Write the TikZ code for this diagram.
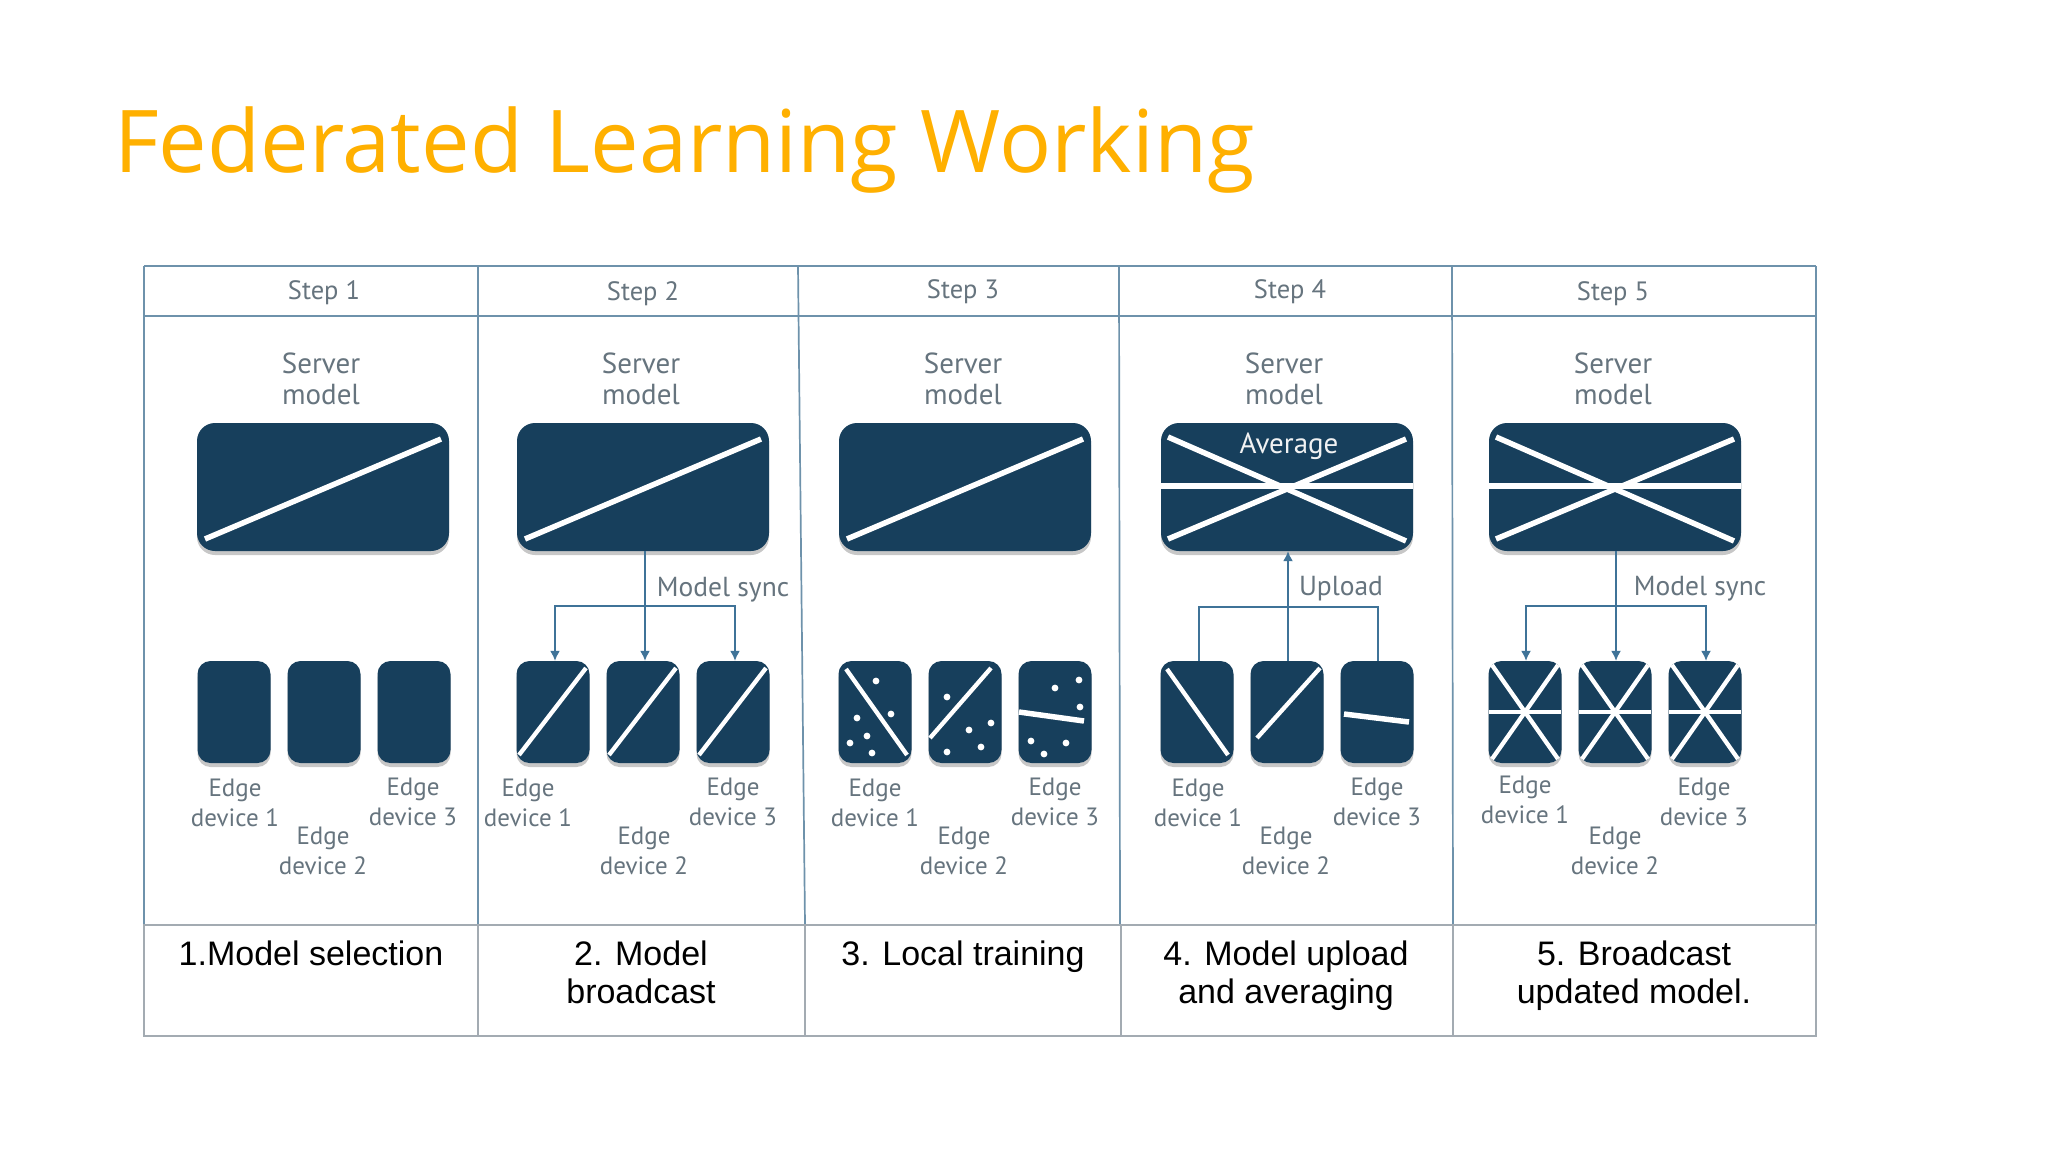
\documentclass[tikz,border=0pt]{standalone}
\usepackage{fontspec}
\setmainfont{Liberation Sans}
\newfontfamily\titlefont{Open Sans}
\newfontfamily\dinfont{PT Sans}
\usetikzlibrary{shadows,arrows.meta}
\definecolor{navy}{HTML}{173F5C}
\definecolor{rule}{HTML}{6E92AB}
\definecolor{lowrule}{HTML}{A3ABB2}
\definecolor{ink}{HTML}{66747E}
\definecolor{wire}{HTML}{3F7398}
\definecolor{titlec}{HTML}{FFB000}
\tikzset{
  x=1pt,y=-1pt,
  shadowed/.style={fill=navy,draw=none,inner sep=0pt,
    drop shadow={shadow xshift=0pt,shadow yshift=-4pt,opacity=.22,fill=black}},
  server/.style={shadowed,rounded corners=18pt,minimum width=252pt,minimum height=128pt},
  device/.style={shadowed,rounded corners=13pt,minimum width=73pt,minimum height=102pt},
  cut/.style={draw=white,line width=5.5pt},
  thincut/.style={draw=white,line width=4.3pt},
  dot/.style={fill=white,draw=none},
  lbl/.style={text=ink,align=center,inner sep=0pt,font=\dinfont\fontsize{25}{30.5}\selectfont},
  steplbl/.style={lbl,font=\dinfont\fontsize{26.5}{30.5}\selectfont},
  srvlbl/.style={lbl,font=\dinfont\fontsize{29}{31}\selectfont},
  wirelbl/.style={lbl,font=\dinfont\fontsize{27.5}{31}\selectfont},
  captext/.style={text=black,align=center,inner sep=0pt,font=\fontsize{34}{38}\selectfont,anchor=north},
  wireline/.style={draw=wire,line width=1.6pt},
  wirearrow/.style={wireline,-{Latex[length=10pt,width=10pt]}},
  tablerule/.style={draw=rule,line width=1.7pt},
  lowtable/.style={draw=lowrule,line width=1.7pt},
}
\newcommand{\srvbox}[2]{\node[server] (#1) at (#2,487) {};}
\newcommand{\devbox}[2]{\node[device] (#1) at (#2,712) {};}
\newcommand{\cutline}[5]{\draw[#5] ([shift={(#2)}]#1.center) -- ([shift={(#3)}]#1.center);}
\newcommand{\dotat}[2]{\fill[dot] ([shift={(#2)}]#1.center) circle (3.4pt);}
\newcommand{\srvX}[1]{%
  \draw[cut] ([shift={(-126,-1)}]#1.center) -- ([shift={(126,-1)}]#1.center);
  \draw[cut] ([shift={(-119,-50)}]#1.center) -- ([shift={(119,54)}]#1.center);
  \draw[cut] ([shift={(-119,52)}]#1.center) -- ([shift={(119,-48)}]#1.center);}
\newcommand{\devX}[1]{%
  \draw[thincut] ([shift={(-36,0)}]#1.center) -- ([shift={(36,0)}]#1.center);
  \draw[thincut] ([shift={(-33,-47)}]#1.center) -- ([shift={(33,47)}]#1.center);
  \draw[thincut] ([shift={(-33,47)}]#1.center) -- ([shift={(33,-47)}]#1.center);}
\begin{document}
\begin{tikzpicture}
\useasboundingbox (0,0) rectangle (2048,1152);
\fill[white] (0,0) rectangle (2048,1152);

\node[anchor=base west,inner sep=0pt,text=titlec,font=\titlefont\fontsize{86.6}{100}\selectfont] (title) at (114,172) {Federated Learning Working};

% table
\draw[tablerule] (144,266) -- (1816,266);
\draw[tablerule] (144,316) -- (1816,316);
\draw[tablerule] (144,266) -- (144,925);
\draw[tablerule] (1816,266) -- (1816,925);
\draw[tablerule] (478,266) -- (478,925);
\draw[tablerule] (798,266) -- (805,925);
\draw[tablerule] (1119,266) -- (1120,925);
\draw[tablerule] (1452,266) -- (1453,925);
\draw[lowtable] (144,925) rectangle (1816,1036);
\draw[lowtable] (478,925) -- (478,1036);
\draw[lowtable] (805,925) -- (805,1036);
\draw[lowtable] (1121,925) -- (1121,1036);
\draw[lowtable] (1453,925) -- (1453,1036);

% headers
\node[steplbl] (h1) at (324,293) {Step 1};
\node[steplbl] (h2) at (643,294) {Step 2};
\node[steplbl] (h3) at (963,292) {Step 3};
\node[steplbl] (h4) at (1290,292) {Step 4};
\node[steplbl] (h5) at (1613,294) {Step 5};

\node[srvlbl] (m1) at (321,379) {Server\\model};
\node[srvlbl] (m2) at (641,379) {Server\\model};
\node[srvlbl] (m3) at (963,379) {Server\\model};
\node[srvlbl] (m4) at (1284,379) {Server\\model};
\node[srvlbl] (m5) at (1613,379) {Server\\model};

% server boxes
\srvbox{s1}{323}\srvbox{s2}{643}\srvbox{s3}{965}\srvbox{s4}{1287}\srvbox{s5}{1615}
\cutline{s1}{-118,52}{118,-48}{}{cut}
\cutline{s2}{-118,52}{118,-48}{}{cut}
\cutline{s3}{-118,52}{118,-48}{}{cut}
\srvX{s4}\srvX{s5}
\node[srvlbl,text=white!90!ink] (avg) at (1289,446) {Average};

% devices
\devbox{d11}{234}\devbox{d12}{324}\devbox{d13}{414}
\devbox{d21}{553}\devbox{d22}{643}\devbox{d23}{733}
\devbox{d31}{875}\devbox{d32}{965}\devbox{d33}{1055}
\devbox{d41}{1197}\devbox{d42}{1287}\devbox{d43}{1377}
\devbox{d51}{1525}\devbox{d52}{1615}\devbox{d53}{1705}

\foreach \n in {d21,d22,d23}{\draw[thincut] ([shift={(-34,43)}]\n.center) -- ([shift={(33,-44)}]\n.center);}

\cutline{d31}{-29,-43}{32,43}{}{thincut}
\cutline{d32}{-35,26}{26,-44}{}{thincut}
\cutline{d33}{-36,0}{29,9}{}{cut}
\foreach \p in {{1,-31},{16,2},{-18,6},{-8,24},{-25,31},{-3,41}}{\dotat{d31}{\p}}
\foreach \p in {{-18,-15},{4,18},{26,11},{16,35},{-18,40}}{\dotat{d32}{\p}}
\foreach \p in {{24,-32},{0,-24},{25,-5},{-24,29},{11,31},{-11,42}}{\dotat{d33}{\p}}

\cutline{d41}{-30,-43}{31,43}{}{thincut}
\cutline{d42}{-30,26}{33,-44}{}{thincut}
\cutline{d43}{-33,2}{32,10}{}{cut}
\devX{d51}\devX{d52}\devX{d53}

% device labels
\node[lbl] (e11) at (235,803) {Edge\\device 1};
\node[lbl] (e12) at (323,851) {Edge\\device 2};
\node[lbl] (e13) at (413,802) {Edge\\device 3};
\node[lbl] (e21) at (528,803) {Edge\\device 1};
\node[lbl] (e22) at (644,851) {Edge\\device 2};
\node[lbl] (e23) at (733,802) {Edge\\device 3};
\node[lbl] (e31) at (875,803) {Edge\\device 1};
\node[lbl] (e32) at (964,851) {Edge\\device 2};
\node[lbl] (e33) at (1055,802) {Edge\\device 3};
\node[lbl] (e41) at (1198,803) {Edge\\device 1};
\node[lbl] (e42) at (1286,851) {Edge\\device 2};
\node[lbl] (e43) at (1377,802) {Edge\\device 3};
\node[lbl] (e51) at (1525,800) {Edge\\device 1};
\node[lbl] (e52) at (1615,851) {Edge\\device 2};
\node[lbl] (e53) at (1704,802) {Edge\\device 3};

% connectors step 2
\coordinate (b2) at (645,606);
\draw[wirearrow] (s2.south -| b2) -- (d22.north -| b2);
\coordinate (b2l) at (555,606);
\coordinate (b2r) at (735,606);
\draw[wirearrow] (b2) -- (b2l) -- (d21.north -| b2l);
\draw[wirearrow] (b2) -- (b2r) -- (d23.north -| b2r);
\node[wirelbl] (ms2) at (723,590) {Model sync};

% connectors step 4
\coordinate (b4) at (1288,607);
\coordinate (b4l) at (1199,607);
\coordinate (b4r) at (1378,607);
\draw[wirearrow] (d42.north -| b4) -- (s4.south -| b4);
\draw[wireline] (d41.north -| b4l) -- (b4l) -- (b4r) -- (d43.north -| b4r);
\node[wirelbl] (up4) at (1341,589) {Upload};

% connectors step 5
\coordinate (b5) at (1616,606);
\coordinate (b5l) at (1526,606);
\coordinate (b5r) at (1706,606);
\draw[wirearrow] (s5.south -| b5) -- (d52.north -| b5);
\draw[wirearrow] (b5) -- (b5l) -- (d51.north -| b5l);
\draw[wirearrow] (b5) -- (b5r) -- (d53.north -| b5r);
\node[wirelbl] (ms5) at (1700,589) {Model sync};

% captions
\node[captext] (c1) at (311,941) {1.Model selection};
\node[captext] (c2) at (641,941) {2. Model\\broadcast};
\node[captext] (c3) at (963,941) {3. Local training};
\node[captext] (c4) at (1286,941) {4. Model upload\\and averaging};
\node[captext] (c5) at (1634,941) {5. Broadcast\\updated model.};
\end{tikzpicture}
\end{document}
